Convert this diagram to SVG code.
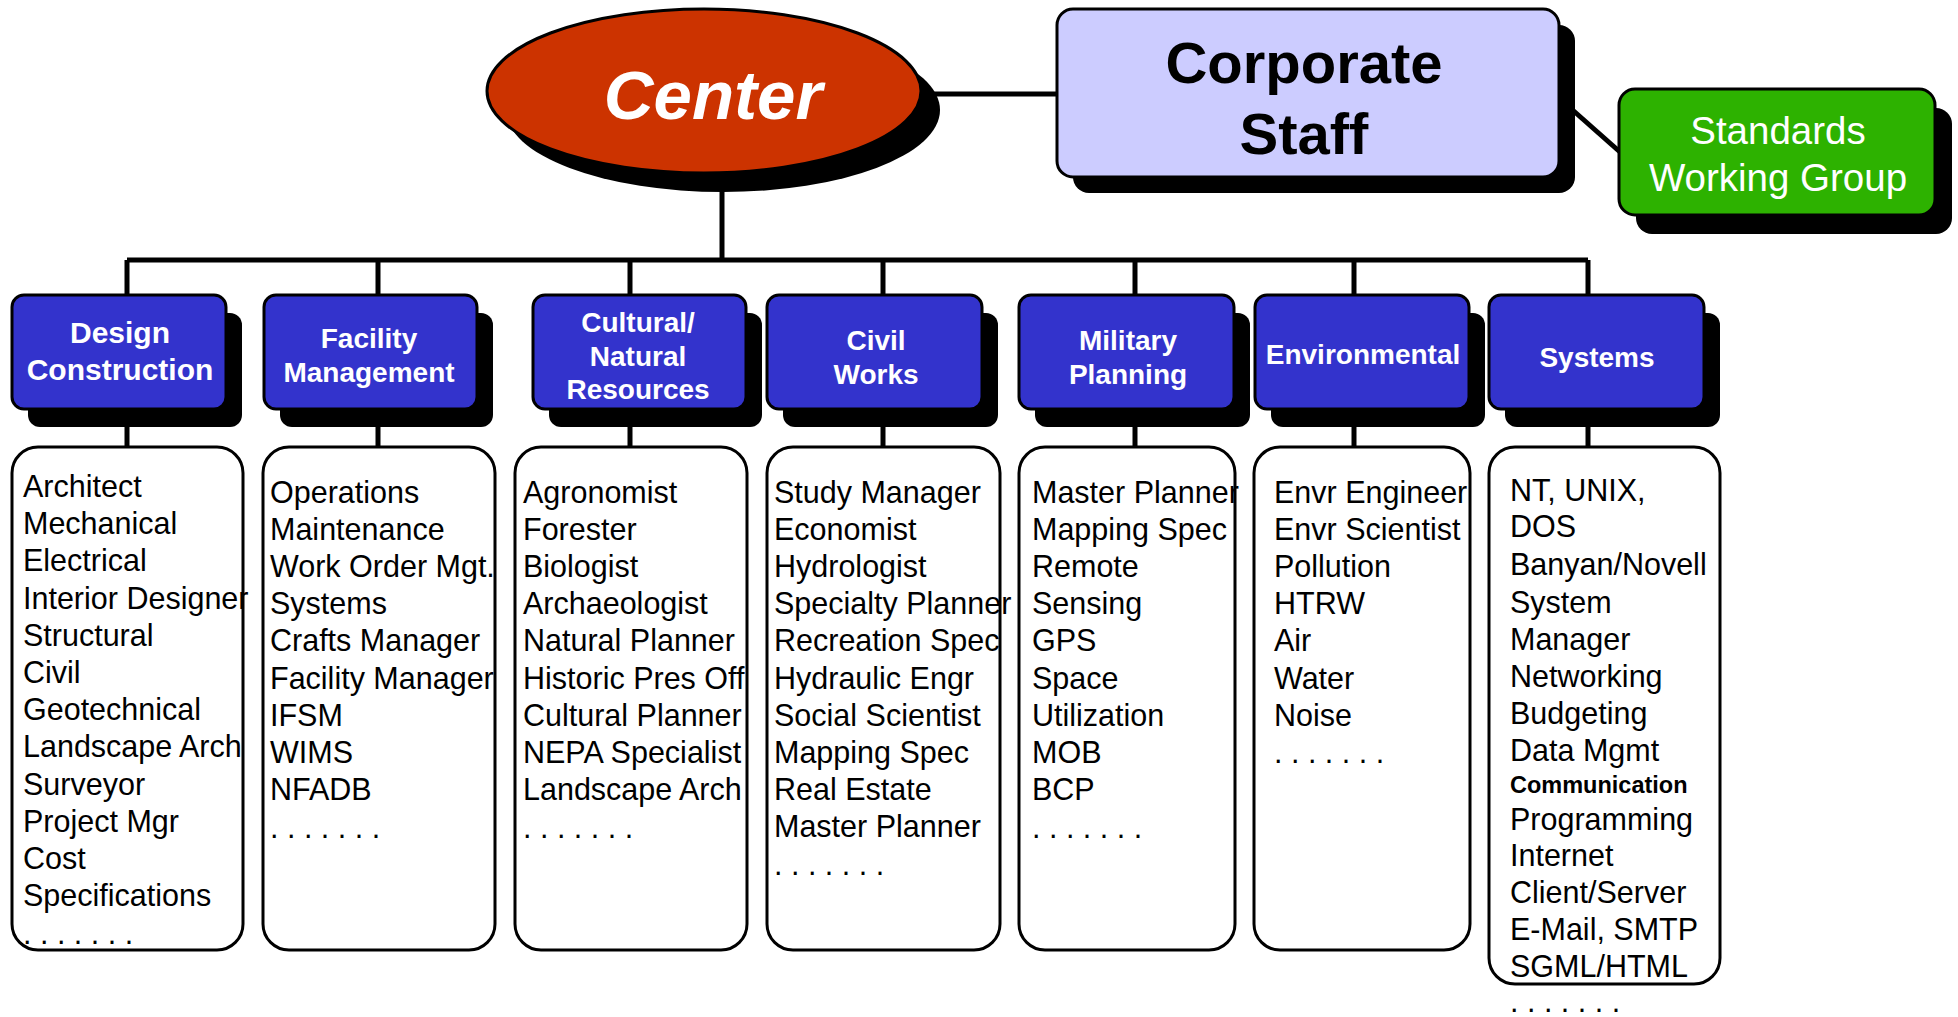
<svg xmlns="http://www.w3.org/2000/svg" width="1958" height="1017" viewBox="0 0 1958 1017">
<style>
.conn{stroke:#000;stroke-width:5;fill:none}
.sh{fill:#000}
.hdr{fill:#3333CC;stroke:#000;stroke-width:3}
.lst{fill:#fff;stroke:#000;stroke-width:3}
.ht{font-family:"Liberation Sans",Arial,sans-serif;font-weight:bold;font-size:28px;fill:#fff;text-anchor:middle}
.lt{font-family:"Liberation Sans",Arial,sans-serif;font-size:30.5px;fill:#000}
</style>
<rect width="1958" height="1017" fill="#fff"/>
<g id="connectors">
<path class="conn" d="M921,94 H1057"/>
<path class="conn" stroke-width="4" d="M1559,98 L1620,152"/>
<path class="conn" d="M722,185 V260"/>
<path class="conn" d="M127,260 H1588"/>
<path class="conn" d="M127,260 V447 M378,260 V447 M630,260 V447 M883,260 V447 M1135,260 V447 M1354,260 V447 M1588,260 V447"/>
</g>
<g id="center">
<ellipse class="sh" cx="723" cy="110" rx="217" ry="82"/>
<ellipse cx="704" cy="91" rx="217" ry="82" fill="#CC3300" stroke="#000" stroke-width="3"/>
<text x="713" y="119" font-family="'Liberation Sans',Arial,sans-serif" font-weight="bold" font-style="italic" font-size="69" fill="#fff" text-anchor="middle">Center</text>
</g>
<g id="corporate-staff">
<rect class="sh" x="1073" y="25" width="502" height="168" rx="16"/>
<rect x="1057" y="9" width="502" height="168" rx="16" fill="#CCCCFF" stroke="#000" stroke-width="3"/>
<text font-family="'Liberation Sans',Arial,sans-serif" font-weight="bold" font-size="58" fill="#000" text-anchor="middle"><tspan x="1304" y="83">Corporate</tspan><tspan x="1304" y="154">Staff</tspan></text>
</g>
<g id="standards-working-group">
<rect class="sh" x="1636" y="108" width="316" height="126" rx="16"/>
<rect x="1619" y="89" width="316" height="126" rx="16" fill="#2DB200" stroke="#000" stroke-width="3"/>
<text font-family="'Liberation Sans',Arial,sans-serif" font-size="38.5" fill="#fff" text-anchor="middle"><tspan x="1778" y="144">Standards</tspan><tspan x="1778" y="191">Working Group</tspan></text>
</g>
<g id="design-construction">
<rect class="sh" x="28" y="313" width="214" height="114" rx="12"/>
<rect class="hdr" x="12" y="295" width="214" height="114" rx="12"/>
<text class="ht" style="font-size:30px"><tspan x="120" y="343">Design</tspan><tspan x="120" y="380">Construction</tspan></text>
<rect class="lst" x="12" y="447" width="231" height="503" rx="26"/>
<text class="lt"><tspan x="23" y="497">Architect</tspan><tspan x="23" y="534.2">Mechanical</tspan><tspan x="23" y="571.4">Electrical</tspan><tspan x="23" y="608.6">Interior Designer</tspan><tspan x="23" y="645.8">Structural</tspan><tspan x="23" y="683">Civil</tspan><tspan x="23" y="720.2">Geotechnical</tspan><tspan x="23" y="757.4">Landscape Arch</tspan><tspan x="23" y="794.6">Surveyor</tspan><tspan x="23" y="831.8">Project Mgr</tspan><tspan x="23" y="869">Cost</tspan><tspan x="23" y="906.2">Specifications</tspan><tspan x="23" y="944">. . . . . . .</tspan></text>
</g>
<g id="facility-management">
<rect class="sh" x="280" y="313" width="213" height="114" rx="12"/>
<rect class="hdr" x="264" y="295" width="213" height="114" rx="12"/>
<text class="ht"><tspan x="369" y="348">Facility</tspan><tspan x="369" y="382">Management</tspan></text>
<rect class="lst" x="263" y="447" width="232" height="503" rx="26"/>
<text class="lt"><tspan x="270" y="502.6">Operations</tspan><tspan x="270" y="539.8">Maintenance</tspan><tspan x="270" y="577">Work Order Mgt.</tspan><tspan x="270" y="614.2">Systems</tspan><tspan x="270" y="651.4">Crafts Manager</tspan><tspan x="270" y="688.6">Facility Manager</tspan><tspan x="270" y="725.8">IFSM</tspan><tspan x="270" y="763">WIMS</tspan><tspan x="270" y="800.2">NFADB</tspan><tspan x="270" y="838">. . . . . . .</tspan></text>
</g>
<g id="cultural-natural-resources">
<rect class="sh" x="549" y="313" width="213" height="114" rx="12"/>
<rect class="hdr" x="533" y="295" width="213" height="114" rx="12"/>
<text class="ht"><tspan x="638" y="332">Cultural/</tspan><tspan x="638" y="366">Natural</tspan><tspan x="638" y="399">Resources</tspan></text>
<rect class="lst" x="515" y="447" width="232" height="503" rx="26"/>
<text class="lt"><tspan x="523" y="502.6">Agronomist</tspan><tspan x="523" y="539.8">Forester</tspan><tspan x="523" y="577">Biologist</tspan><tspan x="523" y="614.2">Archaeologist</tspan><tspan x="523" y="651.4">Natural Planner</tspan><tspan x="523" y="688.6">Historic Pres Off</tspan><tspan x="523" y="725.8">Cultural Planner</tspan><tspan x="523" y="763">NEPA Specialist</tspan><tspan x="523" y="800.2">Landscape Arch</tspan><tspan x="523" y="838">. . . . . . .</tspan></text>
</g>
<g id="civil-works">
<rect class="sh" x="783" y="313" width="215" height="114" rx="12"/>
<rect class="hdr" x="767" y="295" width="215" height="114" rx="12"/>
<text class="ht"><tspan x="876" y="350">Civil</tspan><tspan x="876" y="384">Works</tspan></text>
<rect class="lst" x="767" y="447" width="233" height="503" rx="26"/>
<text class="lt"><tspan x="774" y="502.6">Study Manager</tspan><tspan x="774" y="539.8">Economist</tspan><tspan x="774" y="577">Hydrologist</tspan><tspan x="774" y="614.2">Specialty Planner</tspan><tspan x="774" y="651.4">Recreation Spec</tspan><tspan x="774" y="688.6">Hydraulic Engr</tspan><tspan x="774" y="725.8">Social Scientist</tspan><tspan x="774" y="763">Mapping Spec</tspan><tspan x="774" y="800.2">Real Estate</tspan><tspan x="774" y="837.4">Master Planner</tspan><tspan x="774" y="875">. . . . . . .</tspan></text>
</g>
<g id="military-planning">
<rect class="sh" x="1035" y="313" width="215" height="114" rx="12"/>
<rect class="hdr" x="1019" y="295" width="215" height="114" rx="12"/>
<text class="ht"><tspan x="1128" y="350">Military</tspan><tspan x="1128" y="384">Planning</tspan></text>
<rect class="lst" x="1019" y="447" width="216" height="503" rx="26"/>
<text class="lt"><tspan x="1032" y="502.6">Master Planner</tspan><tspan x="1032" y="539.8">Mapping Spec</tspan><tspan x="1032" y="577">Remote</tspan><tspan x="1032" y="614.2">Sensing</tspan><tspan x="1032" y="651.4">GPS</tspan><tspan x="1032" y="688.6">Space</tspan><tspan x="1032" y="725.8">Utilization</tspan><tspan x="1032" y="763">MOB</tspan><tspan x="1032" y="800.2">BCP</tspan><tspan x="1032" y="838">. . . . . . .</tspan></text>
</g>
<g id="environmental">
<rect class="sh" x="1271" y="313" width="214" height="114" rx="12"/>
<rect class="hdr" x="1255" y="295" width="214" height="114" rx="12"/>
<text class="ht"><tspan x="1363" y="364">Environmental</tspan></text>
<rect class="lst" x="1254" y="447" width="216" height="503" rx="26"/>
<text class="lt"><tspan x="1274" y="502.6">Envr Engineer</tspan><tspan x="1274" y="539.8">Envr Scientist</tspan><tspan x="1274" y="577">Pollution</tspan><tspan x="1274" y="614.2">HTRW</tspan><tspan x="1274" y="651.4">Air</tspan><tspan x="1274" y="688.6">Water</tspan><tspan x="1274" y="725.8">Noise</tspan><tspan x="1274" y="763">. . . . . . .</tspan></text>
</g>
<g id="systems">
<rect class="sh" x="1505" y="313" width="215" height="114" rx="12"/>
<rect class="hdr" x="1489" y="295" width="215" height="114" rx="12"/>
<text class="ht"><tspan x="1597" y="367">Systems</tspan></text>
<rect class="lst" x="1489" y="447" width="231" height="537" rx="26"/>
<text class="lt"><tspan x="1510" y="501">NT, UNIX,</tspan><tspan x="1510" y="537">DOS</tspan><tspan x="1510" y="575">Banyan/Novell</tspan><tspan x="1510" y="612.5">System</tspan><tspan x="1510" y="649.5">Manager</tspan><tspan x="1510" y="687">Networking</tspan><tspan x="1510" y="724">Budgeting</tspan><tspan x="1510" y="761">Data Mgmt</tspan><tspan x="1510" y="793" font-weight="bold" font-size="23.5">Communication</tspan><tspan x="1510" y="829.5">Programming</tspan><tspan x="1510" y="866">Internet</tspan><tspan x="1510" y="903">Client/Server</tspan><tspan x="1510" y="940">E-Mail, SMTP</tspan><tspan x="1510" y="977">SGML/HTML</tspan><tspan x="1510" y="1012">. . . . . . .</tspan></text>
</g>
</svg>
